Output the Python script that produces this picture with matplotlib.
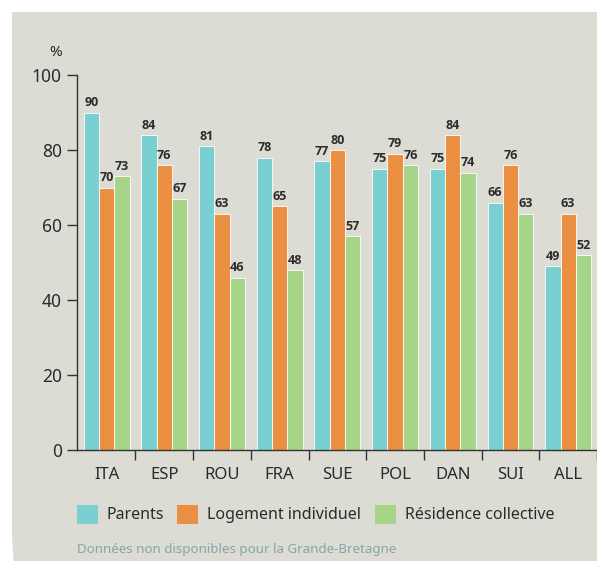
import matplotlib
matplotlib.use("Agg")
import matplotlib.pyplot as plt
from matplotlib.patches import Rectangle, FancyBboxPatch
import numpy as np

categories = ["ITA", "ESP", "ROU", "FRA", "SUE", "POL", "DAN", "SUI", "ALL"]
parents = [90, 84, 81, 78, 77, 75, 75, 66, 49]
logement = [70, 76, 63, 65, 80, 79, 84, 76, 63]
residence = [73, 67, 46, 48, 57, 76, 74, 63, 52]
series_names = ["Parents", "Logement individuel", "Résidence collective"]
y_ticks = [0, 20, 40, 60, 80, 100]
footnote = "Données non disponibles pour la Grande-Bretagne"

colors = ["#7acfd0", "#eb8f42", "#a6d58a"]
bg = "#dcdbd4"
txt = "#2b2b2b"
FONT = ["Noto Sans", "DejaVu Sans"]
plt.rcParams["font.family"] = FONT

W, H = 597, 561
fig = plt.figure(figsize=(W / 100, H / 100), dpi=100)
fig.patch.set_facecolor("white")

# background panel in pixel coordinates
bgax = fig.add_axes([0, 0, 1, 1], zorder=0)
bgax.set_xlim(0, W)
bgax.set_ylim(H, 0)
bgax.axis("off")
bgax.add_patch(Rectangle((12, 12), W, 520, facecolor=bg, edgecolor="none"))
bgax.add_patch(FancyBboxPatch((12, 300), W + 400, 390,
                              boxstyle="round,pad=0,rounding_size=160",
                              facecolor=bg, edgecolor="none"))

# main axes
x0px, y0px, y100px = 77, 450, 75
ax = fig.add_axes([x0px / W, (H - y0px) / H, (W - x0px) / W, (y0px - y100px) / H], zorder=1)
ax.patch.set_alpha(0)
step = 58.5
center0 = 107
xl = (x0px - center0) / step
xr = (W - center0) / step
ax.set_xlim(xl, xr)
ax.set_ylim(0, 100)

x = np.arange(len(categories))
bw = 0.265
offs = [-bw, 0, bw]
for vals, off, c in zip([parents, logement, residence], offs, colors):
    ax.bar(x + off, vals, width=bw, color=c, edgecolor="white", linewidth=0.6, zorder=2)
    for xi, v in zip(x + off, vals):
        ax.annotate(f"{v}", (xi, v), xytext=(0, 2.5), textcoords="offset points",
                    ha="center", va="bottom", fontsize=9, fontweight="bold",
                    family=["Open Sans", "DejaVu Sans"],
                    color=txt, annotation_clip=False)

for s in ["top", "right"]:
    ax.spines[s].set_visible(False)
for s in ["left", "bottom"]:
    ax.spines[s].set_color("#333333")
    ax.spines[s].set_linewidth(1.0)

ax.set_yticks(y_ticks)
ax.tick_params(axis="y", length=7, width=1.0, color="#333333", pad=4,
               labelsize=12.5, labelcolor=txt)
ax.set_xticks(np.arange(len(categories)) + 0.5)
ax.set_xticklabels([])
ax.tick_params(axis="x", which="major", length=7, width=1.0, color="#333333", direction="out")
ax.set_xticks(x, minor=True)
ax.set_xticklabels(categories, minor=True)
ax.tick_params(axis="x", which="minor", length=0, pad=12, labelsize=12, labelcolor=txt)

fig.text(55.5 / W, 1 - 52 / H, "%", ha="center", va="center", fontsize=11, color=txt)

# legend
leg_x = [77, 177, 375]
for lx, name, c in zip(leg_x, series_names, colors):
    bgax.add_patch(Rectangle((lx, 505), 21, 19, facecolor=c, edgecolor="none"))
    bgax.text(lx + 30, 515, name, ha="left", va="center", fontsize=11.5, color=txt)

bgax.text(77, 549, footnote, ha="left", va="center", fontsize=9.6, color="#86a6a6")

fig.savefig("out.png", dpi=100, facecolor="white")
